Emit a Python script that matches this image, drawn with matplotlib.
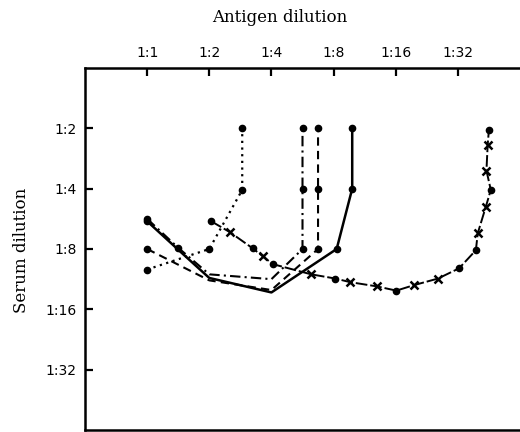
import matplotlib
matplotlib.use("Agg")
import matplotlib.pyplot as plt
import numpy as np

# Axis positions are log2 of the dilution denominator
antigen_ticks = [0, 1, 2, 3, 4, 5]
antigen_labels = ["1:1", "1:2", "1:4", "1:8", "1:16", "1:32"]
serum_ticks = [1, 2, 3, 4, 5]
serum_labels = ["1:2", "1:4", "1:8", "1:16", "1:32"]

# Curves (x = log2 antigen dilution, y = log2 serum dilution)
solid_x = [0.0, 0.53, 1.0, 2.0, 3.05, 3.3, 3.3]
solid_y = [2.54, 3.04, 3.48, 3.72, 3.0, 2.0, 1.0]

dashdot_x = [0.0, 0.5, 1.0, 2.0, 2.5, 2.5, 2.5]
dashdot_y = [2.5, 2.98, 3.42, 3.5, 3.0, 2.0, 1.0]

dashed_x = [0.0, 1.0, 2.0, 2.75, 2.75, 2.75]
dashed_y = [3.0, 3.52, 3.68, 3.0, 2.0, 1.0]

dotted_x = [0.0, 1.0, 1.53, 1.53]
dotted_y = [3.34, 3.0, 2.02, 1.0]

cross_x = [1.03, 1.33, 1.70, 1.86, 2.02, 2.64, 3.03, 3.27, 3.70, 4.01, 4.29,
           4.68, 5.02, 5.29, 5.32, 5.45, 5.53, 5.46, 5.48, 5.50]
cross_y = [2.54, 2.72, 2.99, 3.12, 3.25, 3.42, 3.49, 3.55, 3.62, 3.69, 3.60,
           3.49, 3.32, 3.02, 2.74, 2.30, 2.02, 1.70, 1.27, 1.02]
cross_is_x = [False, True, False, True, False, True, False, True, True, False, True,
              True, False, False, True, True, False, True, True, False]

plt.rcParams['font.family'] = ['DejaVu Serif']

fig = plt.figure(figsize=(5.2, 4.32), dpi=100)
ax = fig.add_axes([85/520, 2/432, 1 - 85/520, (430-68)/432])

lw = 1.5
ax.plot(dotted_x, dotted_y, color='black', lw=1.6, linestyle=(0, (1, 2)),
        marker='o', markersize=4.5)
ax.plot(dashdot_x, dashdot_y, color='black', lw=1.5, linestyle=(0, (5, 2, 1, 2)),
        marker='o', markersize=4.5, markevery=[0, 1, 4, 5, 6])
ax.plot(dashed_x, dashed_y, color='black', lw=1.5, linestyle=(0, (4, 2.5)),
        marker='o', markersize=4.5, markevery=[0, 3, 4, 5])
ax.plot(solid_x, solid_y, color='black', lw=1.8, linestyle='-',
        marker='o', markersize=4.5, markevery=[0, 4, 5, 6])

cx = np.array(cross_x)
cy = np.array(cross_y)
isx = np.array(cross_is_x)
ax.plot(cx, cy, color='black', lw=1.4, linestyle=(0, (6, 1.5)))
ax.plot(cx[~isx], cy[~isx], 'o', color='black', markersize=4.5)
ax.plot(cx[isx], cy[isx], 'x', color='black', markersize=6, mew=1.8)

ax.set_xlim(-1, 6)
ax.set_ylim(6, 0)

ax.xaxis.tick_top()
ax.set_xticks(antigen_ticks)
ax.set_xticklabels(antigen_labels, fontfamily='DejaVu Sans', fontsize=10)
ax.set_yticks(serum_ticks)
ax.set_yticklabels(serum_labels, fontfamily='DejaVu Sans', fontsize=10)
ax.tick_params(axis='x', direction='in', length=6, width=1.6, pad=6, top=True, bottom=False)
ax.tick_params(axis='y', direction='in', length=6, width=1.6, pad=6, left=True, right=False)

ax.spines['right'].set_visible(False)
for s in ['left', 'top', 'bottom']:
    ax.spines[s].set_linewidth(1.8)

fig.text(280/520, 1 - 18/432, "Antigen dilution", ha='center', va='center', fontsize=12)
fig.text(22/520, 1 - 250/432, "Serum dilution", ha='center', va='center',
         rotation=90, fontsize=12)

fig.savefig("out.png", dpi=100)
